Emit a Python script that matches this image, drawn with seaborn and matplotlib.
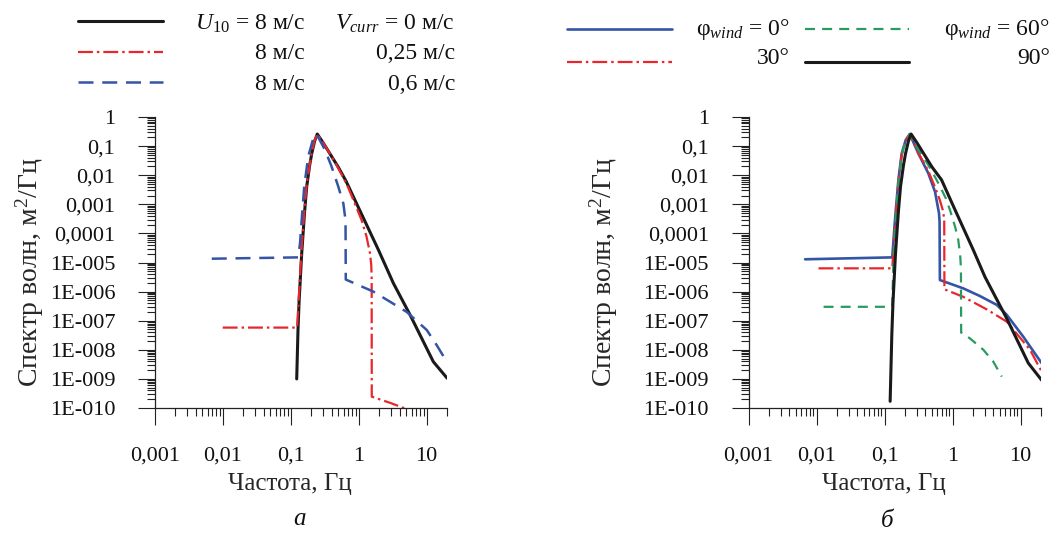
import matplotlib
matplotlib.use("Agg")
import numpy as np
import matplotlib.pyplot as plt
import seaborn as sns
from matplotlib.lines import Line2D
from matplotlib.ticker import FixedLocator, FixedFormatter, LogLocator, NullFormatter

# ---- values ----
# panel a: U10 = 8 m/s, current 0 / 0,25 / 0,6 m/s
freq_a_v0 = [0.1225, 0.128, 0.133, 0.145, 0.16, 0.172, 0.19, 0.204, 0.225, 0.246,
             0.3, 0.4, 0.5, 0.65, 1.0, 1.95, 3.23, 5.68, 12.5, 20]
spec_a_v0 = [1.0e-9, 5.0e-8, 5.0e-7, 2.0e-5, 5.6e-4, 4.1e-3, 2.2e-2, 5.6e-2, 0.15, 0.26,
             0.13, 0.044, 0.019, 6.3e-3, 7.4e-4, 2.7e-5, 1.95e-6, 1.6e-7, 3.9e-9, 1.05e-9]

freq_a_v025 = [0.01, 0.124, 0.133, 0.145, 0.16, 0.172, 0.19, 0.204, 0.225, 0.246,
               0.3, 0.4, 0.5, 0.6, 0.7, 0.85, 1.1, 1.3, 1.47, 1.53, 1.55, 1.555, 2.9, 5.2]
spec_a_v025 = [5.8e-8, 5.8e-8, 1.0e-6, 3.2e-5, 7.9e-4, 5.0e-3, 2.2e-2, 6.0e-2, 0.158, 0.26,
               0.13, 0.044, 0.0174, 7.9e-3, 3.8e-3, 1.26e-3, 2.9e-4, 7.9e-5, 2.0e-5, 7.9e-6,
               3.2e-6, 2.45e-10, 1.5e-10, 9e-11]

freq_a_v06 = [0.0069, 0.129, 0.137, 0.145, 0.158, 0.181, 0.215, 0.24, 0.319, 0.40, 0.50,
              0.594, 0.63, 0.64, 0.645, 1.64, 2.88, 5.08, 10, 14, 19.7]
spec_a_v06 = [1.35e-5, 1.5e-5, 4.6e-5, 2.9e-4, 4.1e-3, 0.044, 0.186, 0.26, 0.074, 0.0195, 4.1e-3,
              1.07e-3, 3.7e-4, 2.5e-4, 2.6e-6, 1.0e-6, 4.5e-7, 2.0e-7, 4.8e-8, 1.45e-8, 3.9e-9]

# panel b: wind direction 0 / 30 / 60 / 90 deg
freq_b_0 = [0.0068, 0.13, 0.1425, 0.16, 0.179, 0.205, 0.235, 0.314, 0.44, 0.553, 0.633,
            0.645, 0.652, 1.44, 2.54, 4.47, 6.26, 11, 20.4]
spec_b_0 = [1.29e-5, 1.5e-5, 2.9e-4, 6.9e-3, 0.056, 0.162, 0.26, 0.056, 0.0117, 2.7e-3, 4.9e-4,
            2.5e-4, 2.5e-6, 1.29e-6, 7.0e-7, 3.5e-7, 1.6e-7, 2.8e-8, 3.5e-9]

freq_b_30 = [0.0107, 0.13, 0.135, 0.145, 0.16, 0.179, 0.205, 0.237, 0.3, 0.44, 0.55, 0.65,
             0.72, 0.755, 0.76, 1.44, 3.18, 6.26, 13.8, 20.4]
spec_b_30 = [6.3e-6, 6.3e-6, 2.5e-5, 3.2e-4, 6.3e-3, 0.05, 0.158, 0.26, 0.071, 0.0141, 4.0e-3,
             1.41e-3, 6.3e-4, 3.2e-4, 1.2e-6, 6.6e-7, 2.45e-7, 9.3e-8, 1.0e-8, 1.8e-9]

freq_b_60 = [0.0127, 0.13, 0.135, 0.145, 0.16, 0.179, 0.205, 0.237, 0.3, 0.44, 0.55, 0.655,
             0.8, 0.918, 1.1, 1.216, 1.3, 1.33, 1.34, 1.81, 2.84, 3.98, 5.3]
spec_b_60 = [3.0e-7, 3.0e-7, 1.0e-5, 2.5e-4, 5.6e-3, 0.05, 0.158, 0.26, 0.089, 0.0224, 8.9e-3,
             4.1e-3, 1.58e-3, 6.3e-4, 1.58e-4, 5.9e-5, 1.58e-5, 6.3e-6, 3.9e-8, 2.45e-8, 1.0e-8,
             3.9e-9, 1.2e-9]

freq_b_90 = [0.121, 0.128, 0.133, 0.145, 0.16, 0.172, 0.19, 0.204, 0.225, 0.246,
             0.3, 0.4, 0.5, 0.69, 1.0, 2.02, 3.0, 6.26, 13.0, 20.4]
spec_b_90 = [1.7e-10, 3.2e-8, 4.0e-7, 2.0e-5, 5.6e-4, 4.1e-3, 2.2e-2, 5.6e-2, 0.15, 0.26,
             0.13, 0.044, 0.019, 6.9e-3, 1.0e-3, 2.7e-5, 3.2e-6, 1.2e-7, 3.5e-9, 9.1e-10]

x_ticks = [0.001, 0.01, 0.1, 1, 10]
x_tick_labels = ["0,001", "0,01", "0,1", "1", "10"]
y_ticks = [1, 0.1, 0.01, 0.001, 1e-4, 1e-5, 1e-6, 1e-7, 1e-8, 1e-9, 1e-10]
y_tick_labels = ["1", "0,1", "0,01", "0,001", "0,0001", "1E-005", "1E-006",
                 "1E-007", "1E-008", "1E-009", "1E-010"]

# ---- styles ----
BLACK = "#1a1a1a"
RED = "#e8262b"
BLUE = "#3454a6"
GREEN = "#2a9a63"
st_black = dict(color=BLACK, linewidth=2.2, linestyle="-")
st_red = dict(color=RED, linewidth=1.6, linestyle=(0, (6.7, 1.8, 1.1, 1.8)))
st_blue_dash = dict(color=BLUE, linewidth=1.8, linestyle=(0, (6, 3.5)))
st_blue = dict(color=BLUE, linewidth=1.9, linestyle="-")
st_green = dict(color=GREEN, linewidth=1.6, linestyle=(0, (4.5, 3.2)))

sns.set_theme(style="white")
plt.rcParams["font.family"] = ["Liberation Serif", "DejaVu Serif"]
plt.rcParams["mathtext.fontset"] = "custom"
plt.rcParams["mathtext.rm"] = "Liberation Serif"
plt.rcParams["mathtext.it"] = "Liberation Serif:italic"
plt.rcParams["text.color"] = "#111111"
FS = 16

W, H = 1056, 538
fig = plt.figure(figsize=(W / 100, H / 100), dpi=100)
ax_a = fig.add_axes([154.7 / W, 1 - 408 / H, 292.5 / W, 291 / H])
ax_b = fig.add_axes([748.5 / W, 1 - 408 / H, 292.5 / W, 291 / H])


def fxy(x, y):
    return x / W, 1 - y / H


def setup(ax):
    ax.set_xscale("log")
    ax.set_yscale("log")
    ax.set_xlim(1e-3, 20)
    ax.set_ylim(1e-10, 1)


def finish(ax):
    ax.xaxis.set_major_locator(FixedLocator(x_ticks))
    ax.xaxis.set_major_formatter(FixedFormatter(x_tick_labels))
    ax.xaxis.set_minor_locator(LogLocator(base=10, subs=np.arange(2, 10), numticks=100))
    ax.xaxis.set_minor_formatter(NullFormatter())
    ax.yaxis.set_major_locator(FixedLocator(y_ticks))
    ax.yaxis.set_major_formatter(FixedFormatter(y_tick_labels))
    ax.yaxis.set_minor_locator(LogLocator(base=10, subs=np.arange(2, 10), numticks=100))
    ax.yaxis.set_minor_formatter(NullFormatter())
    ax.set_xlim(1e-3, 20)
    ax.set_ylim(1e-10, 1)
    sns.despine(ax=ax)
    for s in ("left", "bottom"):
        ax.spines[s].set_color("#222222")
        ax.spines[s].set_linewidth(0.9)
    ax.tick_params(which="both", bottom=True, left=True, direction="out",
                   color="#222222", width=0.8, labelsize=FS, labelcolor="#111111")
    ax.tick_params(which="major", length=12.5)
    ax.tick_params(which="minor", length=6)
    ax.tick_params(axis="x", which="major", pad=15.5)
    ax.tick_params(axis="y", which="major", pad=16)
    ax.grid(False)
    ax.set_xlabel("Частота, Гц", fontsize=18)
    ax.xaxis.set_label_coords(0.462, -0.222)
    ax.set_ylabel("Спектр волн, м$^2$/Гц", fontsize=20)


# ---- panel a ----
setup(ax_a)
sns.lineplot(x=freq_a_v0, y=spec_a_v0, ax=ax_a, sort=False, estimator=None, legend=False, **st_black)
sns.lineplot(x=freq_a_v025, y=spec_a_v025, ax=ax_a, sort=False, estimator=None, legend=False, **st_red)
sns.lineplot(x=freq_a_v06, y=spec_a_v06, ax=ax_a, sort=False, estimator=None, legend=False, **st_blue_dash)
finish(ax_a)
ax_a.yaxis.set_label_coords(-0.372, 0.467)

# ---- panel b ----
setup(ax_b)
sns.lineplot(x=freq_b_0, y=spec_b_0, ax=ax_b, sort=False, estimator=None, legend=False, **st_blue)
sns.lineplot(x=freq_b_30, y=spec_b_30, ax=ax_b, sort=False, estimator=None, legend=False, **st_red)
sns.lineplot(x=freq_b_60, y=spec_b_60, ax=ax_b, sort=False, estimator=None, legend=False, **st_green)
sns.lineplot(x=freq_b_90, y=spec_b_90, ax=ax_b, sort=False, estimator=None, legend=False, **st_black)
finish(ax_b)
ax_b.yaxis.set_label_coords(-0.44, 0.467)


# ---- legend keys (two right-aligned text columns, as in the source) ----
def key(x0, x1, y, style):
    (a0, b0), (a1, b1) = fxy(x0, y), fxy(x1, y)
    fig.add_artist(Line2D([a0, a1], [b0, b1], transform=fig.transFigure, **style))


def label(x, y, s):
    fig.text(*fxy(x, y), s, ha="right", va="baseline", fontsize=FS + 1)


key(78, 163, 20.7, st_black)
key(78, 163, 51.7, st_red)
key(78, 163, 82.3, st_blue_dash)
label(305, 29.5, "$U_{10}$ = 8 м/с")
label(455, 29.5, "$V_{curr}$ = 0 м/с")
label(305, 59.5, "8 м/с")
label(455, 59.5, "0,25 м/с")
label(305, 90, "8 м/с")
label(455, 90, "0,6 м/с")

key(567, 672, 29.3, st_blue)
key(567, 672, 62.3, st_red)
key(805, 909, 29.3, st_green)
key(805, 909, 62.3, st_black)
label(790, 35, "φ$_{wind}$ = 0°")
label(1050, 35, "φ$_{wind}$ = 60°")
label(790, 64, "30°")
label(1050, 64, "90°")

# panel letters
fig.text(*fxy(299, 525), "а", ha="center", va="baseline", fontsize=FS + 2, style="italic")
fig.text(*fxy(887, 527), "б", ha="center", va="baseline", fontsize=FS + 2, style="italic")

fig.savefig("out.png", dpi=100)
